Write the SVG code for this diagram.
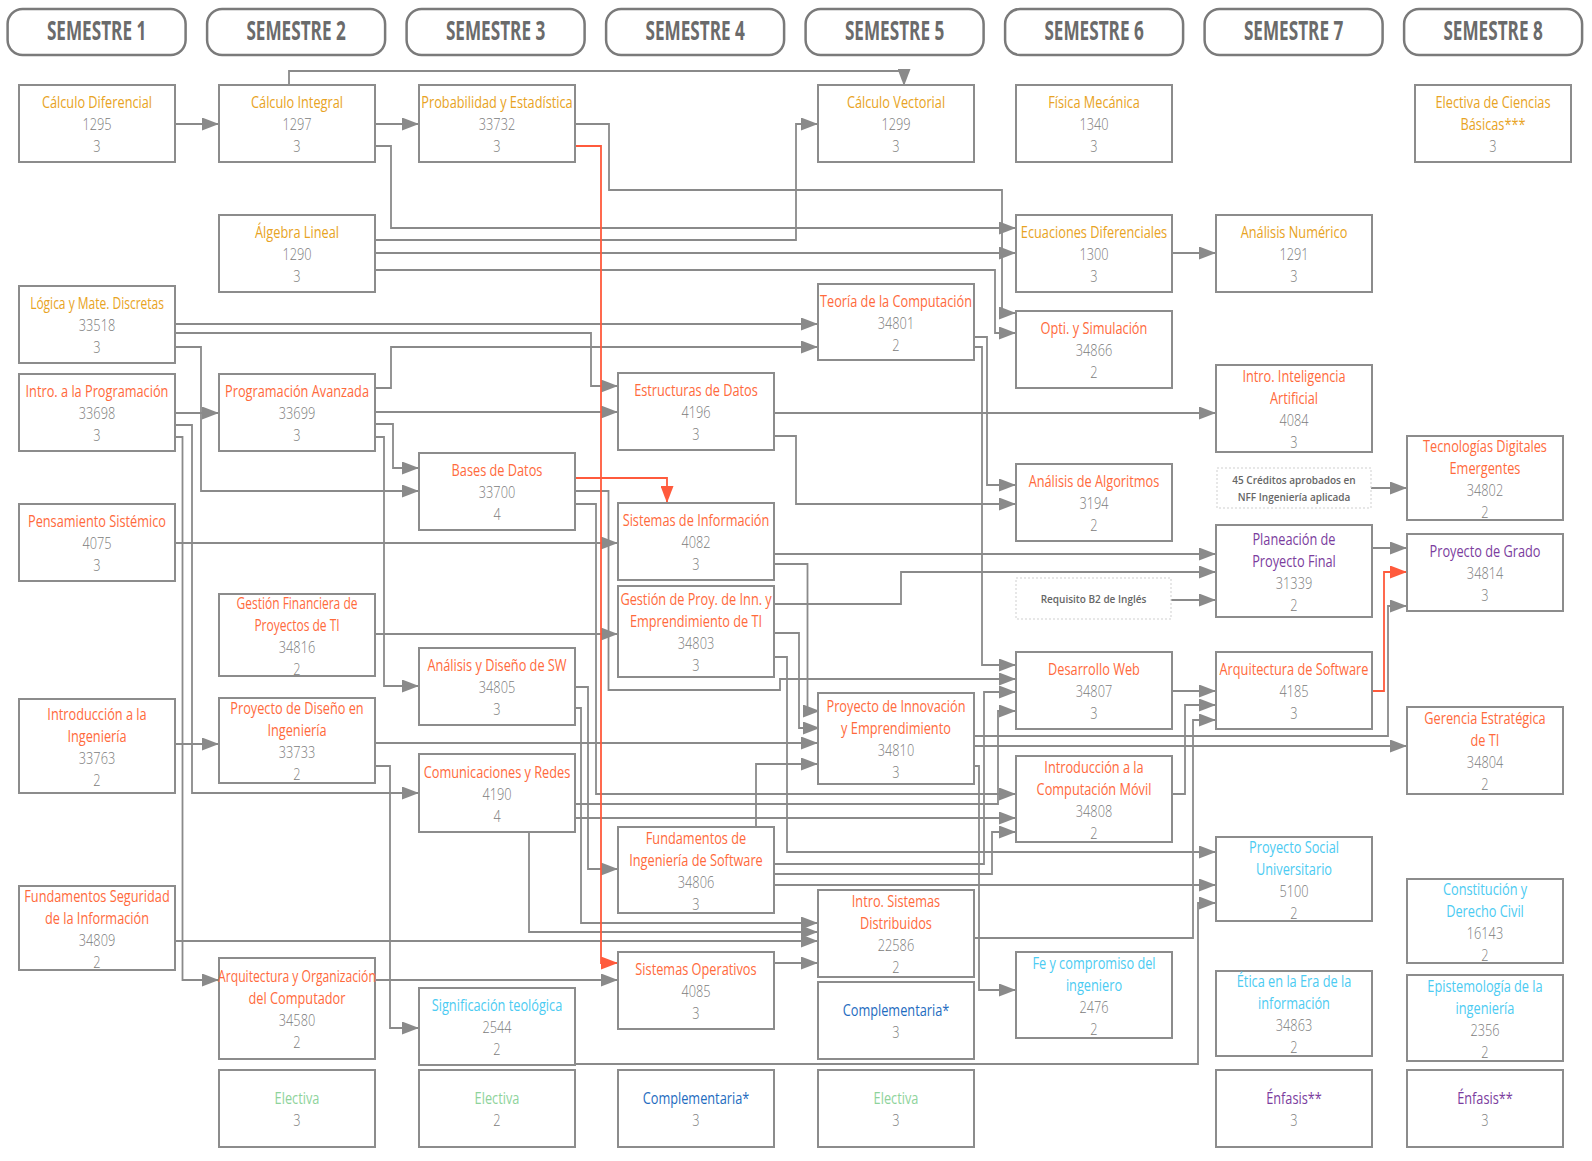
<svg xmlns="http://www.w3.org/2000/svg" width="1592" height="1161" viewBox="0 0 1592 1161">
<style>
.box{fill:#fff;stroke:#8c8c8c;stroke-width:2}
.dash{fill:#fff;stroke:#cfcfcf;stroke-width:1;stroke-dasharray:2 2}
.hdr{fill:#fff;stroke:#7a7a7a;stroke-width:2.5}
text{font-family:"Open Sans","Liberation Sans",sans-serif;text-anchor:middle;transform-box:fill-box;transform-origin:center;transform:scaleX(0.75)}
.ht{font-weight:700;font-size:26px;fill:#6b6b6b;transform:scaleX(0.66)}
.t{font-size:17px}
.s{font-size:16px}
.w{transform:scaleX(0.715)}
.n{font-size:17px;fill:#7b7b7b;font-weight:300}
.note{font-size:10px;fill:#666;font-weight:600;transform:none}
.gold{fill:#E8A323}.red{fill:#FF6A3C}.pur{fill:#7B3D9E}.cy{fill:#4CCBF2}.blu{fill:#1E6CC0}.grn{fill:#8ED39B}
.link{fill:none;stroke:#8a8a8a;stroke-width:1.8;marker-end:url(#ag)}
.rlink{fill:none;stroke:#FF5A3C;stroke-width:1.8;marker-end:url(#ar)}
</style>
<defs>
<marker id="ag" markerUnits="userSpaceOnUse" markerWidth="17" markerHeight="13" refX="17" refY="6.5" orient="auto"><path d="M0,0 L17,6.5 L0,13 z" fill="#8a8a8a"/></marker>
<marker id="ar" markerUnits="userSpaceOnUse" markerWidth="17" markerHeight="13" refX="17" refY="6.5" orient="auto"><path d="M0,0 L17,6.5 L0,13 z" fill="#FF5A3C"/></marker>
</defs>
<rect width="1592" height="1161" fill="#fff"/>
<g id="headers">
<rect class="hdr" x="7.6" y="9" width="178" height="46" rx="15"/><text class="ht" x="96.6" y="40.5">SEMESTRE 1</text>
<rect class="hdr" x="207.1" y="9" width="178" height="46" rx="15"/><text class="ht" x="296.1" y="40.5">SEMESTRE 2</text>
<rect class="hdr" x="406.6" y="9" width="178" height="46" rx="15"/><text class="ht" x="495.6" y="40.5">SEMESTRE 3</text>
<rect class="hdr" x="606.1" y="9" width="178" height="46" rx="15"/><text class="ht" x="695.1" y="40.5">SEMESTRE 4</text>
<rect class="hdr" x="805.6" y="9" width="178" height="46" rx="15"/><text class="ht" x="894.6" y="40.5">SEMESTRE 5</text>
<rect class="hdr" x="1005.1" y="9" width="178" height="46" rx="15"/><text class="ht" x="1094.1" y="40.5">SEMESTRE 6</text>
<rect class="hdr" x="1204.6" y="9" width="178" height="46" rx="15"/><text class="ht" x="1293.6" y="40.5">SEMESTRE 7</text>
<rect class="hdr" x="1404.1" y="9" width="178" height="46" rx="15"/><text class="ht" x="1493.1" y="40.5">SEMESTRE 8</text>
</g>
<g id="connectors">
<path class="link" d="M175,124 H219"/>
<path class="link" d="M375,124 H419"/>
<path class="link" d="M289,85 V71 H904 V86"/>
<path class="link" d="M375,146 H391 V228 H1016"/>
<path class="link" d="M375,240 H796 V124 H818"/>
<path class="link" d="M375,253 H1016"/>
<path class="link" d="M375,270 H995 V333 H1016"/>
<path class="link" d="M575,124 H609 V190 H1002 V313 H1016"/>
<path class="link" d="M175,324 H818"/>
<path class="link" d="M175,333 H591 V386 H618"/>
<path class="link" d="M375,388 H391 V347 H818"/>
<path class="link" d="M175,347 H201 V491 H419"/>
<path class="link" d="M175,413 H219"/>
<path class="link" d="M175,425 H192 V793 H419"/>
<path class="link" d="M175,437 H182.5 V980 H219"/>
<path class="link" d="M375,412 H618"/>
<path class="link" d="M375,424 H393 V468 H419"/>
<path class="link" d="M375,437 H384 V686 H419"/>
<path class="link" d="M175,543 H618"/>
<path class="link" d="M375,634 H618"/>
<path class="link" d="M175,744 H219"/>
<path class="link" d="M375,743 H818"/>
<path class="link" d="M375,766 H390 V1028 H419"/>
<path class="link" d="M175,941 H818"/>
<path class="link" d="M375,980 H618"/>
<path class="link" d="M529,832 V932 H818"/>
<path class="link" d="M575,1064 H1198 V903 H1216"/>
<path class="link" d="M774,413 H1216"/>
<path class="link" d="M774,436 H796 V504 H1016"/>
<path class="link" d="M974,337 H987 V485 H1016"/>
<path class="link" d="M974,347 H982 V665 H1016"/>
<path class="link" d="M575,491 H608.5 V690 H780 V679 H1016"/>
<path class="link" d="M575,504 H596 V794 H1016"/>
<path class="link" d="M774,554 H1216"/>
<path class="link" d="M774,564 H807.5 V711 H820"/>
<path class="link" d="M774,604 H901 V572 H1216"/>
<path class="link" d="M774,633 H799 V728 H820"/>
<path class="link" d="M774,657 H787 V852 H1216"/>
<path class="link" d="M575,687 H588 V869 H618"/>
<path class="link" d="M575,708 H581 V923 H818"/>
<path class="link" d="M756,827 V764 H818"/>
<path class="link" d="M774,874 H992 V832 H1016"/>
<path class="link" d="M774,885 H1216"/>
<path class="link" d="M774,864 H984 V692 H1016"/>
<path class="link" d="M575,818 H1016"/>
<path class="link" d="M575,804 H998 V711 H1016"/>
<path class="link" d="M974,766 H979 V990 H1016"/>
<path class="link" d="M1172,794 H1185 V705 H1216"/>
<path class="link" d="M974,938 H1193 V720 H1216"/>
<path class="link" d="M774,963 H818"/>
<path class="link" d="M1172,691 H1216"/>
<path class="link" d="M1372,548 H1407"/>
<path class="link" d="M1371,488 H1407"/>
<path class="link" d="M1171,600 H1216"/>
<path class="link" d="M974,736 H1388 V606 H1407"/>
<path class="link" d="M974,746 H1407"/>
<path class="link" d="M1172,253 H1216"/>
<path class="rlink" d="M575,146 H601 V963 H618"/>
<path class="rlink" d="M575,478 H667 V503"/>
<path class="rlink" d="M1372,691 H1384 V572 H1407"/>
</g>
<g id="n-cd"><rect class="box" x="19" y="85" width="156" height="77"/><text class="t gold" x="97" y="108.5">Cálculo Diferencial</text><text class="n" x="97" y="130.5">1295</text><text class="n" x="97" y="152.5">3</text></g>
<g id="n-lmd"><rect class="box" x="19" y="286" width="156" height="77"/><text class="s gold" x="97" y="309.5">Lógica y Mate. Discretas</text><text class="n" x="97" y="331.5">33518</text><text class="n" x="97" y="353.5">3</text></g>
<g id="n-ip"><rect class="box" x="19" y="374" width="156" height="77"/><text class="t red" x="97" y="397.5">Intro. a la Programación</text><text class="n" x="97" y="419.5">33698</text><text class="n" x="97" y="441.5">3</text></g>
<g id="n-ps"><rect class="box" x="19" y="504" width="156" height="77"/><text class="t red" x="97" y="527.5">Pensamiento Sistémico</text><text class="n" x="97" y="549.5">4075</text><text class="n" x="97" y="571.5">3</text></g>
<g id="n-ii"><rect class="box" x="19" y="699" width="156" height="94"/><text class="t red" x="97" y="720">Introducción a la</text><text class="t red" x="97" y="742">Ingeniería</text><text class="n" x="97" y="764">33763</text><text class="n" x="97" y="786">2</text></g>
<g id="n-fsi"><rect class="box" x="19" y="886" width="156" height="84"/><text class="t red" x="97" y="902">Fundamentos Seguridad</text><text class="t red" x="97" y="924">de la Información</text><text class="n" x="97" y="946">34809</text><text class="n" x="97" y="968">2</text></g>
<g id="n-ci"><rect class="box" x="219" y="85" width="156" height="77"/><text class="t gold" x="297" y="108.5">Cálculo Integral</text><text class="n" x="297" y="130.5">1297</text><text class="n" x="297" y="152.5">3</text></g>
<g id="n-al"><rect class="box" x="219" y="215" width="156" height="77"/><text class="t gold" x="297" y="238.5">Álgebra Lineal</text><text class="n" x="297" y="260.5">1290</text><text class="n" x="297" y="282.5">3</text></g>
<g id="n-pa"><rect class="box" x="219" y="374" width="156" height="77"/><text class="t red" x="297" y="397.5">Programación Avanzada</text><text class="n" x="297" y="419.5">33699</text><text class="n" x="297" y="441.5">3</text></g>
<g id="n-gf"><rect class="box" x="219" y="594" width="156" height="82"/><text class="s red" x="297" y="609">Gestión Financiera de</text><text class="s red" x="297" y="631">Proyectos de TI</text><text class="n" x="297" y="653">34816</text><text class="n" x="297" y="675">2</text></g>
<g id="n-pdi"><rect class="box" x="219" y="698" width="156" height="85"/><text class="t red" x="297" y="714.5">Proyecto de Diseño en</text><text class="t red" x="297" y="736.5">Ingeniería</text><text class="n" x="297" y="758.5">33733</text><text class="n" x="297" y="780.5">2</text></g>
<g id="n-aoc"><rect class="box" x="219" y="958" width="156" height="101"/><text class="t red w" x="297" y="982.5">Arquitectura y Organización</text><text class="t red" x="297" y="1004.5">del Computador</text><text class="n" x="297" y="1026.5">34580</text><text class="n" x="297" y="1048.5">2</text></g>
<g id="n-el2"><rect class="box" x="219" y="1070" width="156" height="77"/><text class="t grn" x="297" y="1104.5">Electiva</text><text class="n" x="297" y="1126.5">3</text></g>
<g id="n-pe"><rect class="box" x="419" y="85" width="156" height="77"/><text class="t gold" x="497" y="108.5">Probabilidad y Estadística</text><text class="n" x="497" y="130.5">33732</text><text class="n" x="497" y="152.5">3</text></g>
<g id="n-bd"><rect class="box" x="419" y="453" width="156" height="77"/><text class="t red" x="497" y="476.5">Bases de Datos</text><text class="n" x="497" y="498.5">33700</text><text class="n" x="497" y="520.5">4</text></g>
<g id="n-ads"><rect class="box" x="419" y="648" width="156" height="77"/><text class="t red" x="497" y="671.5">Análisis y Diseño de SW</text><text class="n" x="497" y="693.5">34805</text><text class="n" x="497" y="715.5">3</text></g>
<g id="n-cr"><rect class="box" x="419" y="754" width="156" height="78"/><text class="t red" x="497" y="778">Comunicaciones y Redes</text><text class="n" x="497" y="800">4190</text><text class="n" x="497" y="822">4</text></g>
<g id="n-st"><rect class="box" x="419" y="988" width="156" height="77"/><text class="t cy" x="497" y="1011.5">Significación teológica</text><text class="n" x="497" y="1033.5">2544</text><text class="n" x="497" y="1055.5">2</text></g>
<g id="n-el3"><rect class="box" x="419" y="1070" width="156" height="77"/><text class="t grn" x="497" y="1104.5">Electiva</text><text class="n" x="497" y="1126.5">2</text></g>
<g id="n-ed"><rect class="box" x="618" y="373" width="156" height="77"/><text class="t red" x="696" y="396.5">Estructuras de Datos</text><text class="n" x="696" y="418.5">4196</text><text class="n" x="696" y="440.5">3</text></g>
<g id="n-si"><rect class="box" x="618" y="503" width="156" height="77"/><text class="t red" x="696" y="526.5">Sistemas de Información</text><text class="n" x="696" y="548.5">4082</text><text class="n" x="696" y="570.5">3</text></g>
<g id="n-gpi"><rect class="box" x="618" y="586" width="156" height="91"/><text class="t red" x="696" y="605.5">Gestión de Proy. de Inn. y</text><text class="t red" x="696" y="627.5">Emprendimiento de TI</text><text class="n" x="696" y="649.5">34803</text><text class="n" x="696" y="671.5">3</text></g>
<g id="n-fis"><rect class="box" x="618" y="827" width="156" height="86"/><text class="t red" x="696" y="844">Fundamentos de</text><text class="t red" x="696" y="866">Ingeniería de Software</text><text class="n" x="696" y="888">34806</text><text class="n" x="696" y="910">3</text></g>
<g id="n-so"><rect class="box" x="618" y="952" width="156" height="77"/><text class="t red" x="696" y="975.5">Sistemas Operativos</text><text class="n" x="696" y="997.5">4085</text><text class="n" x="696" y="1019.5">3</text></g>
<g id="n-co4"><rect class="box" x="618" y="1070" width="156" height="77"/><text class="t blu" x="696" y="1104.5">Complementaria*</text><text class="n" x="696" y="1126.5">3</text></g>
<g id="n-cv"><rect class="box" x="818" y="85" width="156" height="77"/><text class="t gold" x="896" y="108.5">Cálculo Vectorial</text><text class="n" x="896" y="130.5">1299</text><text class="n" x="896" y="152.5">3</text></g>
<g id="n-tc"><rect class="box" x="818" y="284" width="156" height="76"/><text class="t red" x="896" y="307">Teoría de la Computación</text><text class="n" x="896" y="329">34801</text><text class="n" x="896" y="351">2</text></g>
<g id="n-pie"><rect class="box" x="818" y="693" width="156" height="91"/><text class="t red" x="896" y="712.5">Proyecto de Innovación</text><text class="t red" x="896" y="734.5">y Emprendimiento</text><text class="n" x="896" y="756.5">34810</text><text class="n" x="896" y="778.5">3</text></g>
<g id="n-isd"><rect class="box" x="818" y="890" width="156" height="87"/><text class="t red" x="896" y="907.5">Intro. Sistemas</text><text class="t red" x="896" y="929.5">Distribuidos</text><text class="n" x="896" y="951.5">22586</text><text class="n" x="896" y="973.5">2</text></g>
<g id="n-co5"><rect class="box" x="818" y="982" width="156" height="77"/><text class="t blu" x="896" y="1016.5">Complementaria*</text><text class="n" x="896" y="1038.5">3</text></g>
<g id="n-el5"><rect class="box" x="818" y="1070" width="156" height="77"/><text class="t grn" x="896" y="1104.5">Electiva</text><text class="n" x="896" y="1126.5">3</text></g>
<g id="n-fm"><rect class="box" x="1016" y="85" width="156" height="77"/><text class="t gold" x="1094" y="108.5">Física Mecánica</text><text class="n" x="1094" y="130.5">1340</text><text class="n" x="1094" y="152.5">3</text></g>
<g id="n-edf"><rect class="box" x="1016" y="215" width="156" height="77"/><text class="t gold" x="1094" y="238.5">Ecuaciones Diferenciales</text><text class="n" x="1094" y="260.5">1300</text><text class="n" x="1094" y="282.5">3</text></g>
<g id="n-os"><rect class="box" x="1016" y="311" width="156" height="77"/><text class="t red" x="1094" y="334.5">Opti. y Simulación</text><text class="n" x="1094" y="356.5">34866</text><text class="n" x="1094" y="378.5">2</text></g>
<g id="n-aa"><rect class="box" x="1016" y="464" width="156" height="77"/><text class="t red" x="1094" y="487.5">Análisis de Algoritmos</text><text class="n" x="1094" y="509.5">3194</text><text class="n" x="1094" y="531.5">2</text></g>
<g id="n-req"><rect class="dash" x="1016" y="578" width="155" height="41"/><text class="note" x="1093.5" y="602.5">Requisito B2 de Inglés</text></g>
<g id="n-dw"><rect class="box" x="1016" y="652" width="156" height="77"/><text class="t red" x="1094" y="675.5">Desarrollo Web</text><text class="n" x="1094" y="697.5">34807</text><text class="n" x="1094" y="719.5">3</text></g>
<g id="n-icm"><rect class="box" x="1016" y="756" width="156" height="86"/><text class="t red" x="1094" y="773">Introducción a la</text><text class="t red" x="1094" y="795">Computación Móvil</text><text class="n" x="1094" y="817">34808</text><text class="n" x="1094" y="839">2</text></g>
<g id="n-fc"><rect class="box" x="1016" y="952" width="156" height="86"/><text class="t cy" x="1094" y="969">Fe y compromiso del</text><text class="t cy" x="1094" y="991">ingeniero</text><text class="n" x="1094" y="1013">2476</text><text class="n" x="1094" y="1035">2</text></g>
<g id="n-an"><rect class="box" x="1216" y="215" width="156" height="77"/><text class="t gold" x="1294" y="238.5">Análisis Numérico</text><text class="n" x="1294" y="260.5">1291</text><text class="n" x="1294" y="282.5">3</text></g>
<g id="n-ia"><rect class="box" x="1216" y="365" width="156" height="87"/><text class="t red" x="1294" y="382.5">Intro. Inteligencia</text><text class="t red" x="1294" y="404.5">Artificial</text><text class="n" x="1294" y="426.5">4084</text><text class="n" x="1294" y="448.5">3</text></g>
<g id="n-c45"><rect class="dash" x="1217" y="468" width="154" height="40"/><text class="note" x="1294" y="484">45 Créditos aprobados en</text><text class="note" x="1294" y="500.5">NFF Ingeniería aplicada</text></g>
<g id="n-ppf"><rect class="box" x="1216" y="525" width="156" height="92"/><text class="t pur" x="1294" y="545">Planeación de</text><text class="t pur" x="1294" y="567">Proyecto Final</text><text class="n" x="1294" y="589">31339</text><text class="n" x="1294" y="611">2</text></g>
<g id="n-as"><rect class="box" x="1216" y="652" width="156" height="77"/><text class="t red" x="1294" y="675.5">Arquitectura de Software</text><text class="n" x="1294" y="697.5">4185</text><text class="n" x="1294" y="719.5">3</text></g>
<g id="n-psu"><rect class="box" x="1216" y="837" width="156" height="84"/><text class="t cy" x="1294" y="853">Proyecto Social</text><text class="t cy" x="1294" y="875">Universitario</text><text class="n" x="1294" y="897">5100</text><text class="n" x="1294" y="919">2</text></g>
<g id="n-et"><rect class="box" x="1216" y="971" width="156" height="85"/><text class="t cy" x="1294" y="987.5">Ética en la Era de la</text><text class="t cy" x="1294" y="1009.5">información</text><text class="n" x="1294" y="1031.5">34863</text><text class="n" x="1294" y="1053.5">2</text></g>
<g id="n-en7"><rect class="box" x="1216" y="1070" width="156" height="77"/><text class="t pur" x="1294" y="1104.5">Énfasis**</text><text class="n" x="1294" y="1126.5">3</text></g>
<g id="n-ecb"><rect class="box" x="1415" y="85" width="156" height="77"/><text class="t gold" x="1493" y="108.5">Electiva de Ciencias</text><text class="t gold" x="1493" y="130.5">Básicas***</text><text class="n" x="1493" y="152.5">3</text></g>
<g id="n-tde"><rect class="box" x="1407" y="436" width="156" height="84"/><text class="t red" x="1485" y="452">Tecnologías Digitales</text><text class="t red" x="1485" y="474">Emergentes</text><text class="n" x="1485" y="496">34802</text><text class="n" x="1485" y="518">2</text></g>
<g id="n-pg"><rect class="box" x="1407" y="534" width="156" height="77"/><text class="t pur" x="1485" y="557.5">Proyecto de Grado</text><text class="n" x="1485" y="579.5">34814</text><text class="n" x="1485" y="601.5">3</text></g>
<g id="n-ge"><rect class="box" x="1407" y="707" width="156" height="87"/><text class="t red" x="1485" y="724.5">Gerencia Estratégica</text><text class="t red" x="1485" y="746.5">de TI</text><text class="n" x="1485" y="768.5">34804</text><text class="n" x="1485" y="790.5">2</text></g>
<g id="n-cdc"><rect class="box" x="1407" y="879" width="156" height="84"/><text class="t cy" x="1485" y="895">Constitución y</text><text class="t cy" x="1485" y="917">Derecho Civil</text><text class="n" x="1485" y="939">16143</text><text class="n" x="1485" y="961">2</text></g>
<g id="n-ep"><rect class="box" x="1407" y="975" width="156" height="86"/><text class="t cy" x="1485" y="992">Epistemología de la</text><text class="t cy" x="1485" y="1014">ingeniería</text><text class="n" x="1485" y="1036">2356</text><text class="n" x="1485" y="1058">2</text></g>
<g id="n-en8"><rect class="box" x="1407" y="1070" width="156" height="77"/><text class="t pur" x="1485" y="1104.5">Énfasis**</text><text class="n" x="1485" y="1126.5">3</text></g>
</svg>
